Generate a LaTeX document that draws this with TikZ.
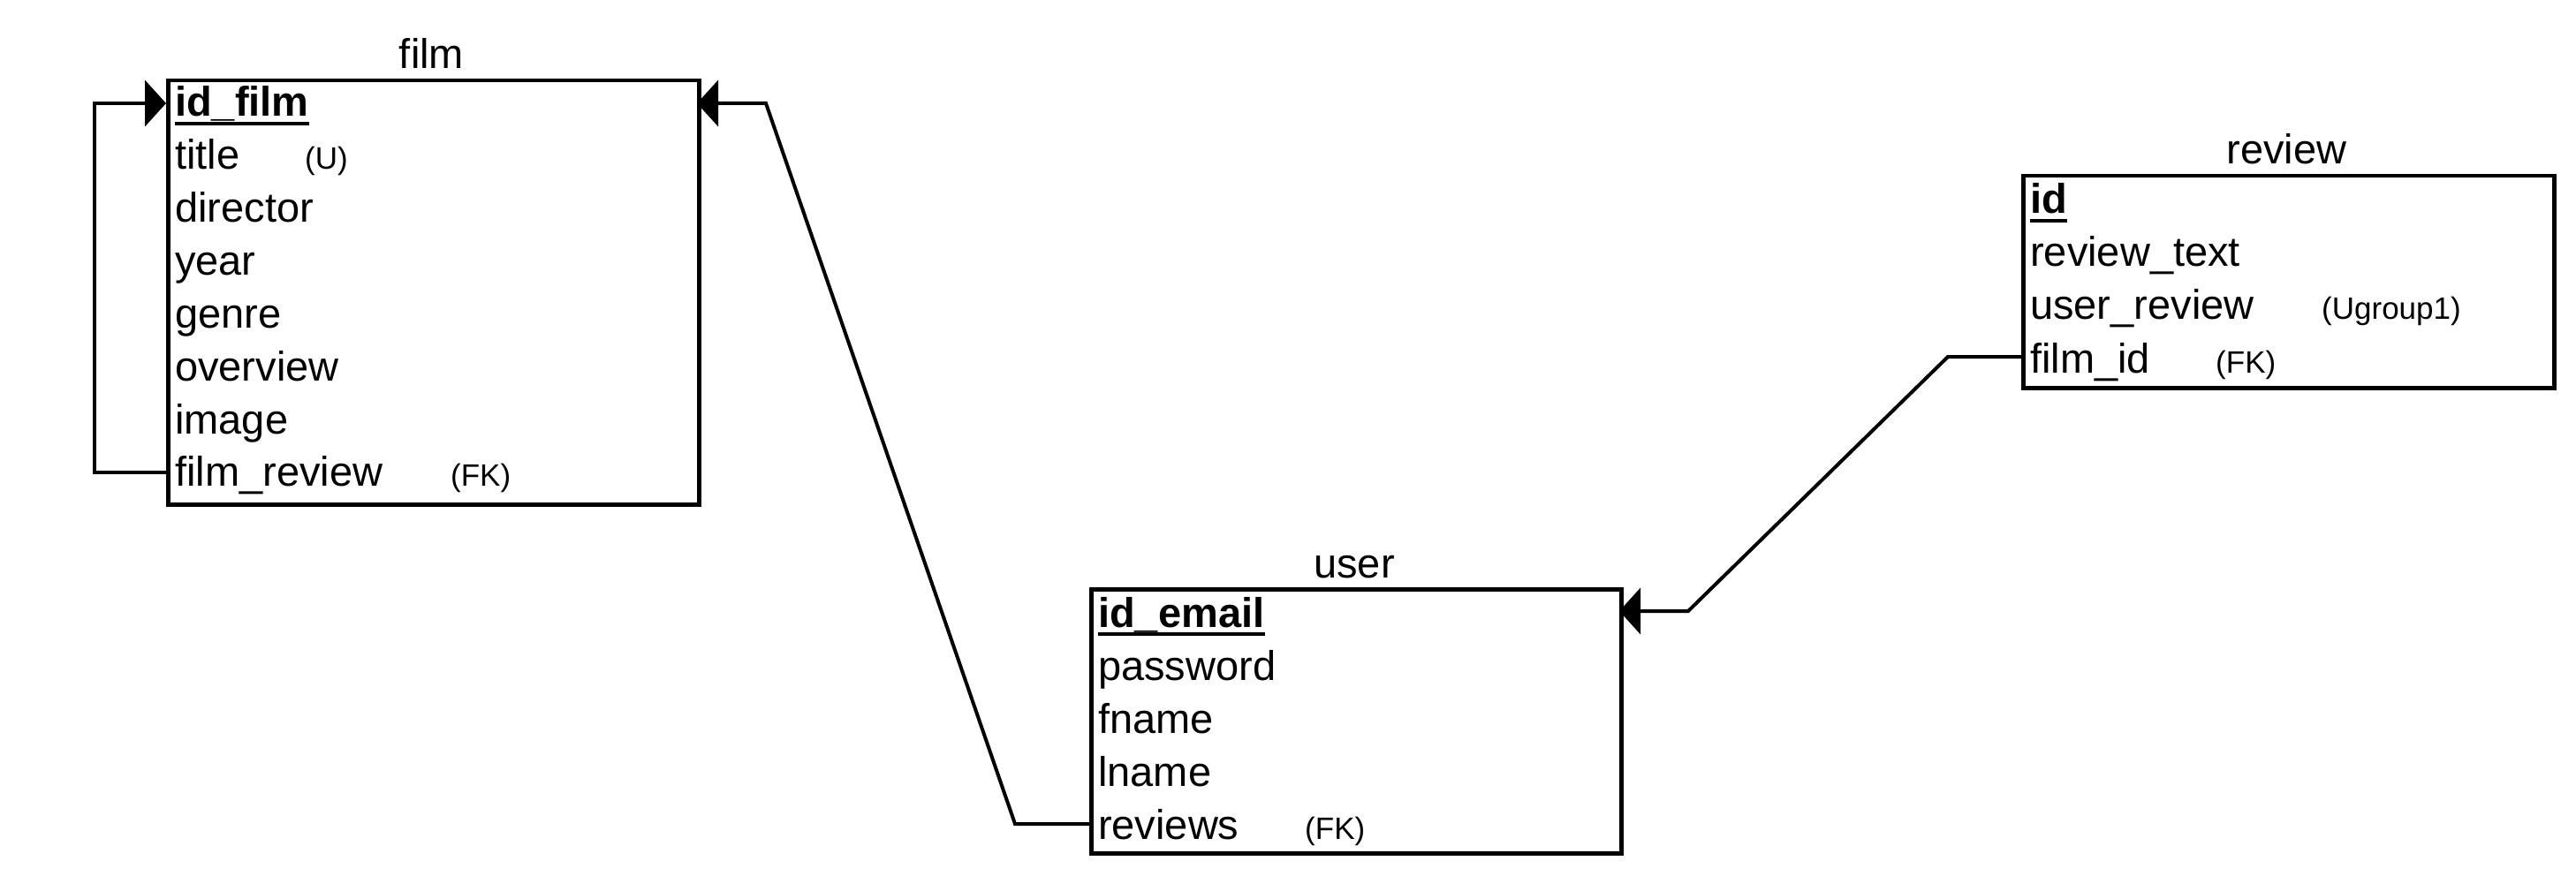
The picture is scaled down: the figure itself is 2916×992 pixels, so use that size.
\documentclass[tikz,border=0pt]{standalone}
\usepackage{fontspec}
\setmainfont{Liberation Sans}
\usetikzlibrary{arrows.meta}

\newcommand{\rowfont}{\fontsize{47}{56}\selectfont}
\newcommand{\notefont}{\fontsize{35}{42}\selectfont}

\tikzset{
  entbox/.style={draw, line width=4.5pt, inner sep=0pt, anchor=north west},
  rowtxt/.style={anchor=base west, inner sep=0pt, font=\rowfont},
  keytxt/.style={rowtxt, font=\rowfont\bfseries},
  notetxt/.style={anchor=base west, inner sep=0pt, font=\notefont},
  ttl/.style={anchor=base, inner sep=0pt, font=\rowfont},
  link/.style={line width=4pt, -{Triangle[length=24pt,width=52pt]}},
  keyline/.style={line width=4.5pt}
}

\begin{document}
\begin{tikzpicture}[x=1pt,y=-1pt]
\useasboundingbox (0,0) rectangle (2916,992);

% ---------- film ----------
\node[entbox, minimum width=601pt, minimum height=480pt] (film) at (188,89) {};
\node[ttl] (filmT) at (488.5,78) {film};
\node[keytxt] (f1) at (198,132) {id\_film};
\node[rowtxt] (f2) at (198,192) {title};
\node[rowtxt] (f3) at (198,252) {director};
\node[rowtxt] (f4) at (198,312) {year};
\node[rowtxt] (f5) at (198,371) {genre};
\node[rowtxt] (f6) at (198,431) {overview};
\node[rowtxt] (f7) at (198,491) {image};
\node[rowtxt] (f8) at (198,550) {film\_review};
\node[notetxt] (f2n) at (345,192) {(U)};
\node[notetxt] (f8n) at (510,550) {(FK)};
\draw[keyline] ([yshift=-8pt]f1.base west) -- ([yshift=-8pt]f1.base east);

% ---------- user ----------
\node[entbox, minimum width=600pt, minimum height=299pt] (user) at (1233,665) {};
\node[ttl] (userT) at (1533,654) {user};
\node[keytxt] (u1) at (1243,710) {id\_email};
\node[rowtxt] (u2) at (1243,770) {password};
\node[rowtxt] (u3) at (1243,830) {fname};
\node[rowtxt] (u4) at (1243,890) {lname};
\node[rowtxt] (u5) at (1243,950) {reviews};
\node[notetxt] (u5n) at (1477,950) {(FK)};
\draw[keyline] ([yshift=-8pt]u1.base west) -- ([yshift=-8pt]u1.base east);

% ---------- review ----------
\node[entbox, minimum width=601pt, minimum height=240pt] (review) at (2288,197) {};
\node[ttl] (reviewT) at (2588.5,186) {review};
\node[keytxt] (r1) at (2298,242) {id};
\node[rowtxt] (r2) at (2298,302) {review\_text};
\node[rowtxt] (r3) at (2298,362) {user\_review};
\node[rowtxt] (r4) at (2298,422) {film\_id};
\node[notetxt] (r3n) at (2628,362) {(Ugroup1)};
\node[notetxt] (r4n) at (2508,422) {(FK)};
\draw[keyline] ([yshift=-8pt]r1.base west) -- ([yshift=-8pt]r1.base east);

% ---------- attachment points on the box edges ----------
\coordinate (filmIdL) at (188,117);
\coordinate (filmIdR) at (789,117);
\coordinate (filmFk)  at (188,535);
\coordinate (userId)  at (1833,692);
\coordinate (userFk)  at (1233,933);
\coordinate (revFk)   at (2288,404);

% ---------- relationships ----------
\draw[link] (filmFk) -- ++(-81,0) |- (filmIdL);
\draw[link] (userFk) -- ++(-84,0) -- (867,117) -- (filmIdR);
\draw[link] (revFk) -- ++(-83,0) -- (1911,692) -- (userId);
\end{tikzpicture}
\end{document}
